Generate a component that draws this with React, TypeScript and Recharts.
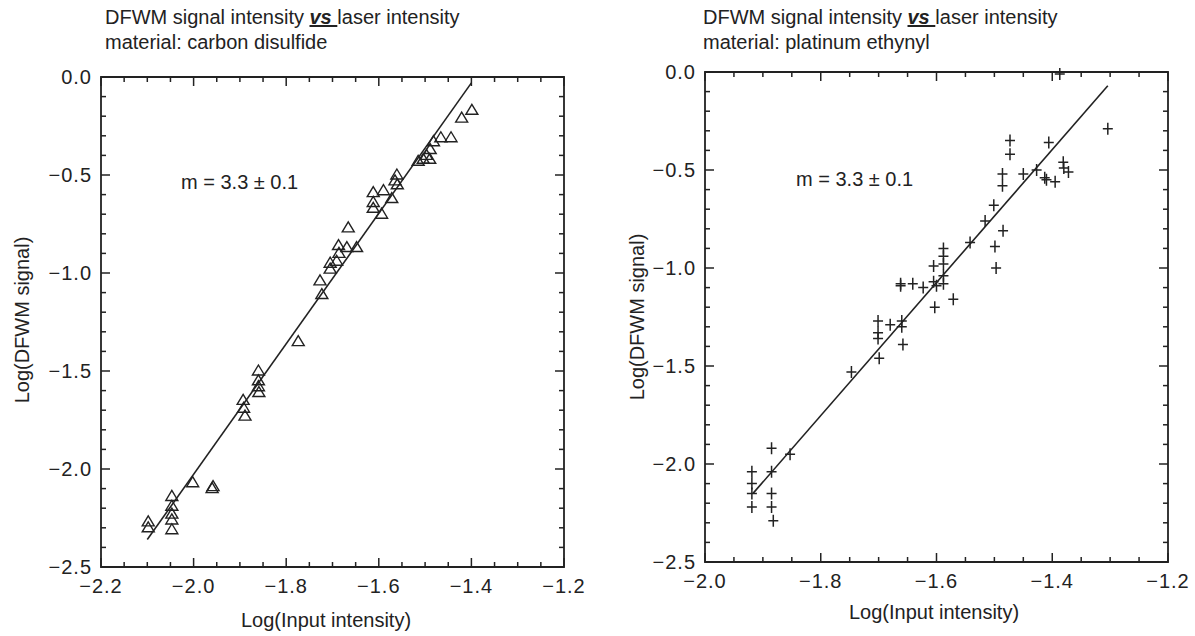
import React from "react";
import { ScatterChart, Scatter, XAxis, YAxis, ReferenceArea } from "recharts";

// carbon disulfide (left panel)
const cs2X = [
  -1.399, -1.421, -1.444, -1.466, -1.482, -1.489, -1.497, -1.504, -1.515, -1.49,
  -1.561, -1.565, -1.56, -1.572, -1.59, -1.612, -1.612, -1.612, -1.594, -1.666,
  -1.648, -1.669, -1.687, -1.686, -1.691, -1.705, -1.705, -1.727, -1.723, -1.774,
  -1.86, -1.86, -1.86, -1.859, -1.893, -1.892, -1.889, -2.002, -1.96, -1.958,
  -2.047, -2.047, -2.047, -2.047, -2.047, -2.098, -2.098,
];
const cs2Y = [
  -0.17, -0.21, -0.31, -0.31, -0.33, -0.37, -0.4, -0.42, -0.43, -0.42,
  -0.5, -0.53, -0.55, -0.62, -0.58, -0.59, -0.64, -0.67, -0.7, -0.77,
  -0.87, -0.87, -0.86, -0.9, -0.94, -0.95, -0.98, -1.04, -1.11, -1.35,
  -1.5, -1.55, -1.58, -1.61, -1.65, -1.69, -1.73, -2.07, -2.1, -2.09,
  -2.14, -2.19, -2.23, -2.26, -2.31, -2.27, -2.3,
];
const cs2FitX = [-2.1, -1.4];
const cs2FitY = [-2.36, -0.03];

// platinum ethynyl (right panel)
const ptX = [
  -1.387, -1.304, -1.473, -1.473, -1.406, -1.45, -1.427, -1.413, -1.395, -1.41,
  -1.381, -1.372, -1.38, -1.486, -1.486, -1.501, -1.516, -1.485, -1.499, -1.497,
  -1.542, -1.571, -1.603, -1.588, -1.588, -1.588, -1.605, -1.588, -1.605, -1.623,
  -1.641, -1.662, -1.662, -1.6, -1.588, -1.66, -1.66, -1.68, -1.701, -1.701,
  -1.701, -1.658, -1.699, -1.747, -1.853, -1.885, -1.885, -1.885, -1.885, -1.882,
  -1.919, -1.919, -1.919, -1.919,
];
const ptY = [
  -0.01, -0.29, -0.35, -0.42, -0.36, -0.52, -0.5, -0.54, -0.56, -0.55,
  -0.46, -0.51, -0.49, -0.52, -0.58, -0.68, -0.76, -0.81, -0.89, -1.0,
  -0.87, -1.16, -1.2, -0.9, -0.94, -0.98, -0.99, -1.04, -1.07, -1.1,
  -1.08, -1.08, -1.09, -1.09, -1.08, -1.27, -1.3, -1.29, -1.27, -1.33,
  -1.36, -1.39, -1.46, -1.53, -1.95, -1.92, -2.04, -2.15, -2.22, -2.29,
  -2.04, -2.1, -2.15, -2.22,
];
const ptFitX = [-1.917, -1.304];
const ptFitY = [-2.15, -0.07];

const leftXTicks = [-2.2, -2.0, -1.8, -1.6, -1.4, -1.2];
const rightXTicks = [-2.0, -1.8, -1.6, -1.4, -1.2];
const yTicks = [-2.5, -2.0, -1.5, -1.0, -0.5, 0.0];

const INK = "#222";
const FONT = "'Liberation Sans', Arial, Helvetica, sans-serif";

function steps(min: number, max: number, step: number) {
  const out: number[] = [];
  const n = Math.round((max - min) / step);
  for (let i = 0; i <= n; i++) out.push(Math.round((min + i * step) * 1000) / 1000);
  return out;
}

function fmt(v: number) {
  const s = Math.abs(v).toFixed(1);
  return v < -1e-9 ? "\u2212" + s : s;
}

const isMajor = (v: number, majors: number[]) => majors.some((m) => Math.abs(m - v) < 1e-6);

function Triangle(p: any) {
  const { cx, cy } = p;
  return (
    <path
      d={`M${cx},${cy - 6} L${cx + 6},${cy + 4} L${cx - 6},${cy + 4} Z`}
      fill="none"
      stroke={INK}
      strokeWidth={1.4}
    />
  );
}

function Plus(p: any) {
  const { cx, cy } = p;
  return (
    <path d={`M${cx - 5},${cy} H${cx + 5} M${cx},${cy - 6} V${cy + 6}`} stroke={INK} strokeWidth={1.5} />
  );
}

interface PanelProps {
  left: number;
  width: number;
  margin: { top: number; left: number; right: number; bottom: number };
  plotW: number;
  plotH: number;
  xMajor: number[];
  xs: number[];
  ys: number[];
  fitX: number[];
  fitY: number[];
  marker: (p: any) => React.ReactElement;
}

function Panel({ left, width, margin, plotW, plotH, xMajor, xs, ys, fitX, fitY, marker }: PanelProps) {
  const xMin = xMajor[0];
  const xMax = xMajor[xMajor.length - 1];
  const data = xs.map((x, i) => ({ x, y: ys[i] }));
  const fit = fitX.map((x, i) => ({ x, y: fitY[i] }));

  const xTick = (p: any) => {
    const v = p.payload.value;
    const major = isMajor(v, xMajor);
    const len = major ? 9 : 5;
    return (
      <g>
        <line x1={p.x} x2={p.x} y1={p.y} y2={p.y - len} stroke={INK} strokeWidth={1.5} />
        <line x1={p.x} x2={p.x} y1={p.y - plotH} y2={p.y - plotH + len} stroke={INK} strokeWidth={1.5} />
        {major && (
          <text
            x={p.x}
            y={p.y + 26}
            textAnchor="middle"
            fontSize={20}
            letterSpacing={1}
            fill={INK}
            fontFamily={FONT}
          >
            {fmt(v)}
          </text>
        )}
      </g>
    );
  };

  const yTick = (p: any) => {
    const v = p.payload.value;
    const major = isMajor(v, yTicks);
    const len = major ? 9 : 5;
    return (
      <g>
        <line x1={p.x} x2={p.x + len} y1={p.y} y2={p.y} stroke={INK} strokeWidth={1.5} />
        <line x1={p.x + plotW} x2={p.x + plotW - len} y1={p.y} y2={p.y} stroke={INK} strokeWidth={1.5} />
        {major && (
          <text
            x={p.x - 9}
            y={p.y + 7}
            textAnchor="end"
            fontSize={20}
            letterSpacing={1}
            fill={INK}
            fontFamily={FONT}
          >
            {fmt(v)}
          </text>
        )}
      </g>
    );
  };

  return (
    <div style={{ position: "absolute", left, top: 0 }}>
      <ScatterChart
        width={width}
        height={636}
        margin={{ ...margin, left: margin.left - 1, bottom: margin.bottom - 1 }}
      >
        <XAxis
          type="number"
          dataKey="x"
          domain={[xMin, xMax]}
          ticks={steps(xMin, xMax, 0.05)}
          interval={0}
          height={1}
          tickSize={0}
          tickMargin={0}
          axisLine={false}
          tickLine={false}
          tick={xTick}
        />
        <YAxis
          type="number"
          dataKey="y"
          domain={[-2.5, 0]}
          ticks={steps(-2.5, 0, 0.1)}
          interval={0}
          width={1}
          tickSize={0}
          tickMargin={0}
          axisLine={false}
          tickLine={false}
          tick={yTick}
        />
        <ReferenceArea x1={xMin} x2={xMax} y1={-2.5} y2={0} fill="none" stroke={INK} strokeWidth={1.8} />
        <Scatter data={fit} line={{ stroke: INK, strokeWidth: 1.6 }} shape={() => <g />} isAnimationActive={false} />
        <Scatter data={data} shape={marker} isAnimationActive={false} />
      </ScatterChart>
    </div>
  );
}

const textStyle: React.CSSProperties = {
  position: "absolute",
  fontFamily: FONT,
  color: INK,
  whiteSpace: "nowrap",
};

function Title({ left, material }: { left: number; material: string }) {
  return (
    <div style={{ ...textStyle, left, top: 5, fontSize: 20, lineHeight: "25px" }}>
      <div>
        DFWM signal intensity{" "}
        <span style={{ fontWeight: "bold", fontStyle: "italic", textDecoration: "underline" }}>vs&nbsp;</span>
        laser intensity
      </div>
      <div>material: {material}</div>
    </div>
  );
}

export default function App() {
  return (
    <div style={{ position: "absolute", left: 0, top: 0, width: 1195, height: 636, background: "#fff" }}>
      <Panel
        left={0}
        width={600}
        margin={{ top: 77, left: 101, right: 36, bottom: 69 }}
        plotW={463}
        plotH={490}
        xMajor={leftXTicks}
        xs={cs2X}
        ys={cs2Y}
        fitX={cs2FitX}
        fitY={cs2FitY}
        marker={Triangle}
      />
      <Panel
        left={600}
        width={595}
        margin={{ top: 72, left: 105, right: 27, bottom: 74 }}
        plotW={463}
        plotH={490}
        xMajor={rightXTicks}
        xs={ptX}
        ys={ptY}
        fitX={ptFitX}
        fitY={ptFitY}
        marker={Plus}
      />

      <Title left={105} material="carbon disulfide" />
      <Title left={703} material="platinum ethynyl" />

      <div style={{ ...textStyle, left: 181, top: 171, fontSize: 20 }}>m = 3.3 ± 0.1</div>
      <div style={{ ...textStyle, left: 796, top: 168, fontSize: 20 }}>m = 3.3 ± 0.1</div>

      <div style={{ ...textStyle, left: 326, top: 620, fontSize: 20, transform: "translate(-50%, -50%)" }}>
        Log(Input intensity)
      </div>
      <div style={{ ...textStyle, left: 934, top: 612, fontSize: 20, transform: "translate(-50%, -50%)" }}>
        Log(Input intensity)
      </div>
      <div
        style={{ ...textStyle, left: 22, top: 320, fontSize: 20, transform: "translate(-50%, -50%) rotate(-90deg)" }}
      >
        Log(DFWM signal)
      </div>
      <div
        style={{ ...textStyle, left: 637, top: 317, fontSize: 20, transform: "translate(-50%, -50%) rotate(-90deg)" }}
      >
        Log(DFWM signal)
      </div>
    </div>
  );
}
